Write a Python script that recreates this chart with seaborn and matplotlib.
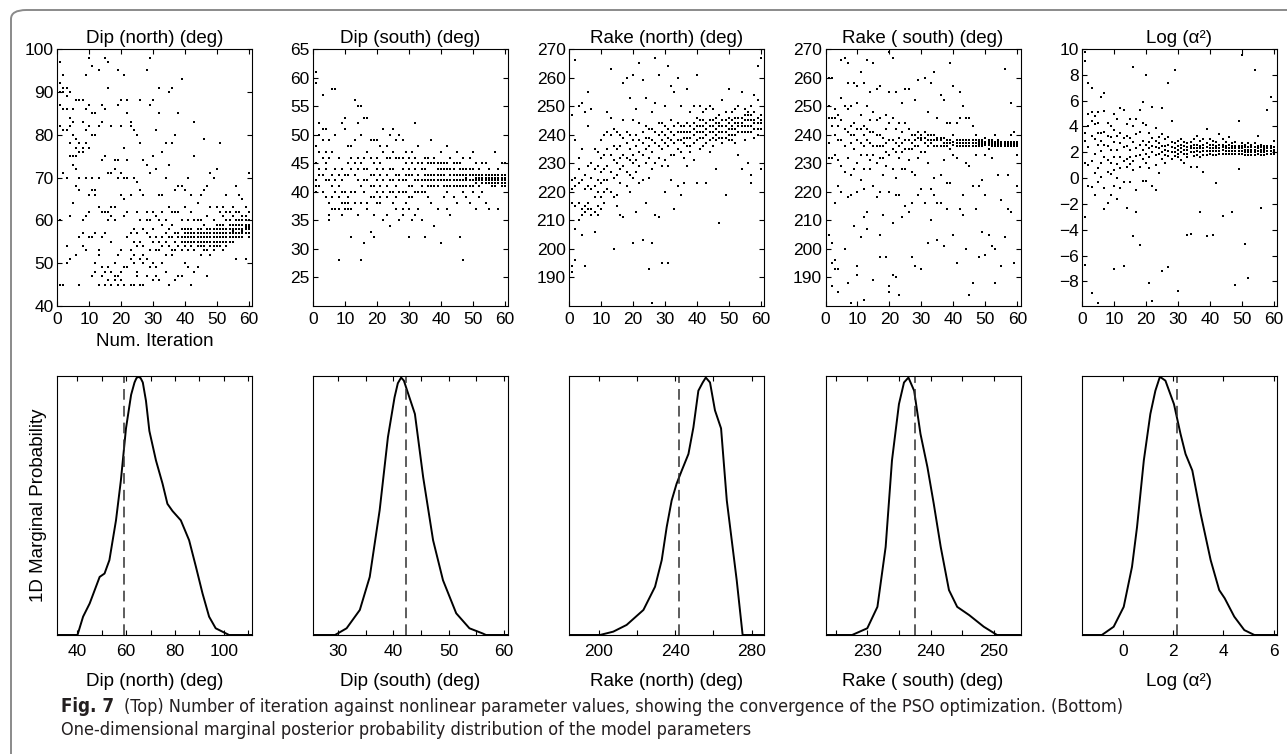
import numpy as np
import pandas as pd
import matplotlib
matplotlib.use("Agg")
import matplotlib.pyplot as plt
import seaborn as sns
from matplotlib.patches import FancyBboxPatch
from matplotlib.ticker import MultipleLocator
from matplotlib import font_manager as fm

# ---------------- data: PSO particle values per iteration (top row) ----------------
dip_north = [
    [91, 93, 88, 76, 72, 58, 62, 96], [92, 90, 87, 97, 45, 60, 82], [94, 91, 86, 45, 71, 81, 90],
    [91, 89, 86, 50, 54, 81, 70], [90, 84, 78, 82, 61, 51, 75], [75, 73, 80, 83, 64, 73, 86],
    [77, 75, 72, 88, 79, 52, 68], [76, 78, 88, 70, 67, 45, 56], [77, 76, 83, 88, 57, 60, 54],
    [78, 81, 94, 70, 61, 53, 86], [77, 82, 87, 66, 62, 56, 98], [80, 70, 96, 56, 67, 47, 85],
    [80, 67, 85, 66, 57, 50, 48], [82, 70, 95, 53, 52, 45, 63], [87, 83, 74, 62, 56, 49, 47],
    [86, 75, 62, 57, 48, 45, 98], [97, 71, 62, 60, 49, 46, 91], [82, 71, 63, 61, 48, 55, 45],
    [74, 72, 63, 60, 47, 50, 46], [95, 87, 74, 70, 47, 45, 52], [88, 82, 71, 66, 53, 46, 48],
    [94, 77, 70, 65, 61, 49, 45], [85, 88, 74, 70, 62, 56, 49], [82, 83, 66, 57, 53, 45, 51],
    [81, 70, 58, 55, 50, 45, 52], [80, 69, 62, 57, 54, 48, 47], [88, 78, 67, 60, 55, 51, 45],
    [74, 66, 58, 54, 52, 50, 45], [95, 73, 62, 60, 57, 51, 47], [98, 87, 71, 60, 56, 53, 49],
    [88, 75, 62, 58, 55, 50, 46], [81, 72, 61, 56, 53, 49, 47], [91, 85, 66, 60, 55, 53, 46],
    [76, 66, 62, 59, 56, 54, 50], [78, 70, 60, 57, 55, 52, 48], [90, 73, 63, 58, 56, 54, 45],
    [91, 78, 62, 59, 56, 53, 52], [80, 67, 62, 57, 55, 53, 46], [85, 68, 62, 57, 56, 54, 47],
    [93, 68, 60, 58, 56, 55, 53, 47], [67, 63, 58, 57, 56, 55, 54, 50], [70, 60, 58, 57, 56, 55, 53, 49],
    [66, 62, 58, 57, 56, 55, 54, 45], [75, 83, 60, 57, 56, 55, 53, 48], [64, 60, 58, 57, 56, 55, 54, 49],
    [66, 60, 58, 57, 56, 55, 54, 52], [79, 67, 59, 57, 56, 55, 54, 53], [68, 61, 58, 57, 56, 55, 53, 47],
    [71, 63, 58, 57, 56, 55, 54, 52], [70, 60, 58, 57, 56, 55, 54, 53], [72, 63, 59, 58, 57, 56, 55, 54],
    [78, 62, 59, 58, 57, 56, 55, 54], [63, 61, 59, 58, 57, 56, 55, 53], [66, 62, 60, 58, 57, 56, 55, 54],
    [62, 60, 59, 58, 57, 56, 55], [63, 61, 59, 58, 57.5, 57, 56, 55], [68, 62, 60, 59, 58, 57, 56, 51],
    [66, 62, 60, 59, 58, 57, 56], [65, 61, 60, 59, 58, 57.5, 57, 56], [63, 61, 60, 59, 58.5, 58, 57, 51],
    [71, 62, 60, 59, 58.5, 58, 57, 56],
]
dip_south = [
    [50, 44, 42, 41, 40, 38, 27, 47], [61, 59, 48, 45, 42, 41, 40], [52, 50, 47, 44, 43, 41],
    [57, 51, 49, 46, 43, 40], [51, 47, 45, 42, 39, 44], [49, 46, 42, 38, 36, 35],
    [58, 47, 43, 41, 39, 37], [58, 50, 44, 42, 40, 37], [46, 43, 41, 39, 37, 28],
    [52, 44, 42, 40, 38, 36], [53, 51, 43, 40, 38, 37], [48, 45, 43, 39, 38, 37],
    [48, 46, 44, 40, 37, 32], [56, 49, 45, 43, 40, 38], [55, 52, 46, 44, 42, 36],
    [55, 50, 45, 41, 38, 28], [53, 46, 44, 42, 40, 31], [53, 47, 44, 42, 38, 37],
    [49, 46, 43, 41, 39, 33], [49, 45, 43, 41, 39, 36, 32], [49, 46, 44, 42, 40, 38],
    [48, 45, 43, 41, 39, 38], [51, 47, 44, 42, 40, 35], [48, 46, 43, 41, 39, 36],
    [50, 46, 44, 42, 40, 34], [51, 47, 44, 42, 40, 38], [49, 46, 43, 41, 39, 37],
    [50, 46, 43, 42, 40, 35], [49, 46, 44, 42, 40, 37, 36], [47, 45, 43, 42, 40, 38],
    [46, 44, 43, 41, 39, 37, 32], [47, 45, 43, 41, 39, 35], [52, 46, 44, 42, 40, 36],
    [48, 45, 43, 42, 40, 37], [45, 44, 42, 41, 40, 35], [46, 44, 43, 42, 40, 32],
    [46, 45, 43, 42, 41, 39], [49, 45, 43, 42, 41, 38], [46, 45, 43, 42, 41, 34],
    [45, 44, 43, 42, 41, 37], [47, 45, 44, 43, 42, 31], [45, 44, 43, 42, 41, 39],
    [48, 45, 44, 42, 41, 40, 37], [46, 44, 43, 42, 41, 36], [45, 44, 43, 42, 41, 39],
    [47, 45, 43, 42, 41, 38], [45, 44, 43, 42, 41, 32], [46, 44, 43, 42, 41, 40, 28],
    [44, 43, 42.5, 42, 41, 39], [46, 44, 43, 42, 41, 38], [47, 44, 43, 42, 41, 40],
    [45, 43, 42.5, 42, 41.5, 37], [44, 43, 42.5, 42, 41, 39], [45, 43, 42.5, 42, 41.5, 40],
    [45, 43, 42.5, 42, 41.5, 38], [44, 43, 42.5, 42, 41.5, 37], [43, 42.5, 42, 41.5, 41],
    [47, 43, 42.5, 42, 41.5, 41], [44, 43, 42.5, 42, 41.5, 37], [45, 43, 42.5, 42, 41.5, 41],
    [45, 43, 42.5, 42, 41.5, 41],
]
rake_north = [
    [225, 222, 215, 211, 195, 205, 238], [224, 221, 216, 192, 194, 247], [238, 225, 222, 215, 207, 196, 266],
    [232, 228, 223, 216, 210, 250], [235, 224, 214, 212, 205, 251], [248, 226, 221, 215, 213, 194],
    [243, 229, 222, 216, 214, 255], [249, 230, 225, 221, 214, 212], [235, 228, 222, 218, 213, 206],
    [234, 229, 224, 220, 215, 212], [238, 232, 227, 223, 218, 214], [240, 233, 228, 224, 220, 216],
    [248, 241, 235, 229, 224, 221], [263, 246, 240, 233, 227, 220], [242, 236, 231, 225, 218, 200],
    [241, 235, 230, 226, 219, 215], [240, 236, 232, 228, 223, 212], [258, 245, 239, 233, 229, 211],
    [260, 241, 237, 232, 227, 222], [253, 240, 235, 231, 226, 220], [261, 245, 238, 233, 230, 225, 202],
    [249, 240, 236, 231, 227, 213], [265, 244, 238, 234, 229, 223], [259, 241, 237, 233, 224, 203],
    [253, 243, 239, 235, 230, 216], [242, 239, 236, 232, 225, 193], [248, 242, 238, 234, 228, 202, 181],
    [267, 251, 241, 237, 230, 212], [261, 244, 240, 236, 232, 211], [244, 241, 238, 235, 229, 195],
    [250, 243, 240, 237, 231, 220], [264, 242, 239, 236, 229, 195], [257, 245, 241, 238, 233, 224],
    [255, 243, 240, 237, 233, 214], [260, 244, 241, 238, 235, 222], [250, 243, 241, 238, 234, 219],
    [243, 241, 239, 237, 232, 223], [256, 244, 241, 239, 236, 229], [248, 243, 241, 239, 236, 234],
    [250, 244, 242, 240, 237, 231], [261, 246, 243, 241, 238, 223], [250, 245, 243, 241, 239, 235],
    [248, 245, 243, 241, 239, 236], [249, 244, 242, 240, 237, 223], [250, 245, 243, 241, 238, 234],
    [249, 245, 243, 241, 239, 236], [246, 244, 242, 240, 238, 228], [247, 244, 243, 241, 239, 209],
    [252, 245, 243, 241, 239, 237], [248, 245, 243, 241, 239, 219], [256, 246, 244, 242, 240, 238],
    [248, 245, 243, 242, 240, 238], [249, 246, 244, 242, 240, 237], [250, 246, 244, 243, 241, 233],
    [255, 246, 244, 243, 241, 228], [249, 247, 245, 243, 241, 238], [248, 247, 245, 243, 241, 230],
    [250, 247, 245, 243, 241, 223, 226], [254, 248, 245, 244, 242, 239], [264, 252, 246, 244, 242, 240],
    [267, 247, 245, 244, 242, 228],
]
rake_south = [
    [266, 253, 250, 249, 241, 233, 211, 207], [260, 250, 246, 237, 232, 205], [260, 246, 243, 232, 202, 187, 195],
    [249, 246, 240, 233, 216, 196, 193], [247, 243, 238, 231, 222, 193, 185], [266, 253, 245, 238, 229, 220],
    [267, 250, 242, 236, 227, 200], [265, 258, 249, 241, 232, 218, 188], [250, 243, 240, 237, 226, 219, 181],
    [258, 244, 240, 235, 228, 208], [257, 251, 242, 238, 230, 220, 194, 191], [262, 247, 242, 237, 233, 224, 204],
    [258, 243, 240, 236, 228, 221, 211, 182], [266, 250, 242, 238, 233, 213, 207], [255, 245, 241, 237, 231, 228],
    [265, 248, 241, 236, 233, 222, 189], [256, 245, 240, 236, 230, 218], [257, 246, 240, 236, 232, 220, 205, 197],
    [239, 236, 232, 226, 212], [247, 242, 237, 234, 229, 197], [269, 255, 244, 238, 233, 220, 185, 187],
    [267, 246, 238, 235, 228, 209, 191], [255, 242, 237, 234, 225, 219, 190], [244, 239, 236, 232, 219, 184],
    [251, 241, 237, 234, 228, 211], [256, 244, 238, 235, 228, 215], [256, 242, 238, 235, 231, 213],
    [240, 237, 235, 227, 216, 197], [252, 240, 238, 236, 226, 194], [259, 241, 239, 236, 232, 219],
    [240, 239, 238, 234, 221, 193], [260, 241, 239, 237, 234, 216], [248, 240, 238, 236, 230, 202],
    [258, 240, 238, 237, 221, 210], [262, 240, 238, 236, 225, 219], [246, 239, 238, 236, 216, 203],
    [254, 239, 238, 236, 226, 216], [252, 239, 237, 236, 231, 201], [244, 238, 237, 236, 223, 214],
    [265, 244, 238, 237, 235, 223], [257, 240, 237.5, 236.5, 233, 205], [244, 238, 237, 236, 232, 195],
    [255, 246, 238, 237, 236, 214], [250, 238, 237, 236, 219, 212], [246, 238, 237, 236, 230, 200],
    [246, 238, 237, 236, 229, 184], [243, 238, 237, 236, 222, 188], [240, 238, 237, 236, 233, 214],
    [238, 237.5, 237, 236.5, 236, 222, 197], [238, 237.5, 237, 236.5, 236, 224, 206],
    [239, 237.5, 237, 236.5, 233, 219, 198], [238, 237.5, 237, 236.5, 235, 205],
    [238, 237.5, 237, 236.5, 236, 232, 201], [240, 237.5, 237, 236.5, 236, 188, 200],
    [238, 237.5, 237, 236.5, 236, 226], [237.5, 237, 236.5, 236, 217, 194], [263, 237.5, 237, 236.5, 236, 204],
    [237.5, 237, 236.5, 236, 226, 214], [240, 237.5, 237, 236.5, 236, 251, 213],
    [241, 237.5, 237, 236.5, 236, 195], [237.5, 237, 236.5, 236, 233, 222],
]
log_alpha2 = [
    [7.4, 6.7, 3.0, 2.8, 2.2, 1.0, -0.5, 3.4], [9.8, 9.1, 3.5, 2.9, 1.2, -3.0, -6.7], [7.4, 5.0, 4.0, 2.4, 1.0, -0.6],
    [7.0, 5.1, 4.4, 3.3, 1.3, -0.7, -8.9], [4.8, 4.2, 3.0, 1.9, 0.4, -1.3], [5.1, 4.3, 3.5, 2.6, 0.8, -0.3, -9.7],
    [6.3, 3.5, 2.9, 2.1, 1.2, 0.1], [6.6, 5.2, 3.6, 2.6, 1.6, -0.8, -2.4], [4.3, 3.3, 2.5, 1.4, 0.5, -1.9],
    [4.0, 3.2, 2.2, 1.2, 0.3, -1.3], [5.0, 3.7, 2.8, 1.6, 0.6, -0.6, -7.0], [4.6, 3.3, 2.2, 1.1, 0.0, -1.6],
    [5.4, 3.5, 2.7, 1.6, 0.8, -0.8], [5.3, 3.1, 2.4, 1.3, -0.3, -6.8], [4.2, 3.3, 2.5, 1.5, 0.9, -2.3],
    [4.6, 3.1, 2.2, 1.6, 1.1, -0.3], [8.6, 4.0, 2.8, 1.3, 0.6, -4.5], [4.6, 3.4, 2.3, 1.7, -0.9, -2.6],
    [5.3, 3.6, 2.6, 1.8, 0.9, -5.2], [5.9, 4.3, 2.9, 2.2, 1.5, -0.2], [8.0, 4.1, 2.6, 1.9, 1.2, -0.2],
    [3.5, 2.8, 2.3, 1.6, 0.8, -8.1], [5.5, 3.1, 2.5, 2.0, -0.6, -9.5], [3.9, 2.9, 2.4, 1.8, 1.0, -0.9],
    [3.2, 2.7, 2.3, 1.9, 0.4], [5.4, 3.4, 2.5, 2.0, 1.5, -7.2], [3.0, 2.5, 2.2, 1.8, 1.2],
    [7.4, 3.2, 2.6, 2.1, 1.7, -6.9], [4.4, 2.8, 2.4, 2.0, 1.5], [8.4, 2.7, 2.3, 2.0, 1.7],
    [2.9, 2.5, 2.2, 1.9, 1.6, -8.7], [3.0, 2.6, 2.3, 2.0, 1.4], [2.8, 2.5, 2.2, 1.9, 1.2],
    [2.7, 2.4, 2.2, 1.9, 1.6, -4.4], [2.8, 2.5, 2.3, 2.0, 0.9, -4.3], [3.0, 2.6, 2.3, 2.0, 1.7],
    [3.3, 2.6, 2.3, 2.1, 1.8, 0.9], [2.9, 2.5, 2.3, 2.0, 1.6, -2.6], [3.0, 2.6, 2.3, 2.1, 1.8, 0.5],
    [3.8, 2.7, 2.4, 2.1, 1.8, -4.5], [3.0, 2.6, 2.3, 2.1, 1.9], [2.9, 2.6, 2.3, 2.1, 1.8, -4.4],
    [2.8, 2.5, 2.3, 2.1, 1.8, -0.4], [3.4, 2.6, 2.3, 2.1, 1.9], [3.0, 2.6, 2.4, 2.2, 1.9, -2.9],
    [2.8, 2.5, 2.3, 2.1, 1.9], [3.2, 2.6, 2.3, 2.1, 1.9], [2.7, 2.5, 2.3, 2.1, 1.9, -2.6],
    [2.8, 2.5, 2.3, 2.1, 1.9, -8.3], [4.4, 2.5, 2.3, 2.1, 1.9, 0.7], [2.7, 2.5, 2.3, 2.1, 1.9, 9.5],
    [2.6, 2.4, 2.2, 2.0, 1.8, -5.1], [2.7, 2.4, 2.2, 2.0, 1.8, -7.7], [2.6, 2.4, 2.2, 2.0, 1.8],
    [2.7, 2.4, 2.2, 2.0, 1.8, 8.4], [3.3, 2.5, 2.3, 2.1, 1.9], [2.6, 2.4, 2.2, 2.0, 1.8, -2.3],
    [2.5, 2.3, 2.2, 2.0, 1.8], [5.3, 2.5, 2.3, 2.1, 1.9], [6.3, 2.5, 2.3, 2.1, 1.9],
    [2.9, 2.4, 2.2, 2.1, 1.9],
]

# ---------------- data: 1D marginal probability curves (bottom row) ----------------
pdf_dip_north_x = [31.6, 40.0, 42.3, 45.0, 49.1, 51.1, 53.1, 55.8, 57.8, 59.9, 62.0, 63.4, 64.2, 65.0, 65.9,
                   66.8, 68.1, 69.5, 72.2, 74.9, 76.9, 79.0, 82.4, 85.8, 88.6, 91.3, 94.0, 96.7, 102.2, 111.6]
pdf_dip_north_y = [0, 0, 0.071, 0.122, 0.225, 0.238, 0.29, 0.444, 0.598, 0.80, 0.93, 0.978, 0.995, 1.0, 0.995,
                   0.978, 0.907, 0.79, 0.676, 0.586, 0.508, 0.48, 0.444, 0.367, 0.264, 0.161, 0.071, 0.026, 0, 0]
pdf_dip_south_x = [25.4, 29.4, 31.5, 33.9, 35.7, 37.5, 39.0, 40.2, 40.8, 41.4, 41.9, 42.3, 43.9, 45.4, 47.2,
                   49.0, 51.4, 53.8, 56.2, 56.8, 60.8]
pdf_dip_south_y = [0, 0, 0.026, 0.097, 0.225, 0.483, 0.766, 0.92, 0.975, 0.997, 0.985, 0.959, 0.856, 0.611,
                   0.367, 0.212, 0.084, 0.026, 0.006, 0, 0]
pdf_rake_north_x = [184.3, 200.5, 207.5, 214.5, 223.3, 229.4, 232.9, 235.5, 238.1, 240.7, 243.4, 246.9, 249.5,
                    252.1, 254.4, 256.0, 258.2, 260.8, 264.0, 267.0, 272.2, 275.3, 286.5]
pdf_rake_north_y = [0, 0, 0.013, 0.039, 0.097, 0.187, 0.29, 0.418, 0.521, 0.586, 0.637, 0.701, 0.804, 0.946,
                    0.978, 0.997, 0.978, 0.87, 0.80, 0.521, 0.212, 0, 0]
pdf_rake_south_x = [223.4, 227.6, 230.0, 231.6, 232.9, 233.9, 235.0, 235.8, 236.5, 237.4, 238.4, 239.5, 240.5,
                    241.6, 242.9, 244.2, 246.1, 248.4, 250.5, 254.2]
pdf_rake_south_y = [0, 0, 0.026, 0.109, 0.341, 0.676, 0.894, 0.978, 0.997, 0.946, 0.779, 0.65, 0.508, 0.341,
                    0.174, 0.109, 0.077, 0.032, 0, 0]
pdf_log_x = [-1.63, -0.84, -0.37, 0.03, 0.36, 0.56, 0.83, 1.09, 1.29, 1.47, 1.69, 2.03, 2.29, 2.49, 2.76, 3.09,
             3.49, 3.83, 4.05, 4.43, 4.83, 5.23, 6.13]
pdf_log_y = [0, 0, 0.032, 0.109, 0.264, 0.418, 0.676, 0.856, 0.946, 1.0, 0.985, 0.894, 0.779, 0.701, 0.637,
             0.47, 0.29, 0.174, 0.142, 0.071, 0.019, 0, 0]

best_values = [58.9, 42.2, 242.0, 237.5, 2.16]
param_titles = ["Dip (north) (deg)", "Dip (south) (deg)", "Rake (north) (deg)", "Rake ( south) (deg)", "Log (α²)"]
caption_bold = "Fig. 7"
caption_line1 = "(Top) Number of iteration against nonlinear parameter values, showing the convergence of the PSO optimization. (Bottom)"
caption_line2 = "One-dimensional marginal posterior probability distribution of the model parameters"

# ---------------- styling ----------------
sns.set_theme(style="ticks")
plt.rcParams.update({
    "axes.linewidth": 0.8, "axes.edgecolor": "black",
    "xtick.direction": "in", "ytick.direction": "in",
    "xtick.major.size": 3.5, "ytick.major.size": 3.5,
    "xtick.minor.size": 3.5, "ytick.minor.size": 3.5,
    "xtick.major.width": 0.8, "ytick.major.width": 0.8,
    "xtick.minor.width": 0.8, "ytick.minor.width": 0.8,
    "xtick.labelsize": 12.5, "ytick.labelsize": 12.5,
    "xtick.color": "black", "ytick.color": "black",
    "text.color": "black", "axes.labelcolor": "black",
})
plt.rcParams["font.family"] = ["Liberation Sans", "DejaVu Sans"]
LABEL_FS = 13.5

W, H = 1287, 754
fig = plt.figure(figsize=(W / 100, H / 100), dpi=100)


def fx(px):
    return px / W


def fy(py):
    return 1 - py / H


# frame around the figure (rounded box)
frame = FancyBboxPatch((fx(11), fy(775)), fx(1320) - fx(11), fy(10) - fy(775),
                       boxstyle="round,pad=0,rounding_size=0.012", transform=fig.transFigure,
                       facecolor="none", edgecolor="#8a8a8a", linewidth=1.4, zorder=0)
fig.patches.append(frame)

lefts = [57, 313, 569, 825.5, 1082]
aw = 195
top_series = [dip_north, dip_south, rake_north, rake_south, log_alpha2]
top_ylims = [(40, 100), (20, 65), (180, 270), (180, 270), (-9.9, 10)]
top_yticks = [list(range(40, 101, 10)), list(range(25, 66, 5)), list(range(190, 271, 10)),
              list(range(190, 271, 10)), list(range(-8, 11, 2))]

for i in range(5):
    ax = fig.add_axes([fx(lefts[i]), fy(306), aw / W, (306 - 49) / H])
    rows = [(it, v) for it, vals in enumerate(top_series[i]) for v in vals]
    df = pd.DataFrame(rows, columns=["iteration", "value"])
    sns.scatterplot(data=df, x="iteration", y="value", ax=ax, color="black", marker="s",
                    s=2.0, linewidth=0, legend=False)
    ax.set_xlim(0, 61)
    ax.set_ylim(*top_ylims[i])
    ax.xaxis.set_major_locator(MultipleLocator(10))
    ax.set_yticks(top_yticks[i])
    ax.tick_params(top=True, right=True)
    ax.tick_params(axis="x", pad=4.5)
    ax.tick_params(axis="y", pad=2.5)
    ax.set_title(param_titles[i], fontsize=LABEL_FS, pad=4)
    ax.set_ylabel("")
    ax.set_xlabel("Num. Iteration" if i == 0 else "", fontsize=LABEL_FS, labelpad=4.5)
    for sp in ax.spines.values():
        sp.set_visible(True)

pdf_x = [pdf_dip_north_x, pdf_dip_south_x, pdf_rake_north_x, pdf_rake_south_x, pdf_log_x]
pdf_y = [pdf_dip_north_y, pdf_dip_south_y, pdf_rake_north_y, pdf_rake_south_y, pdf_log_y]
bot_xlims = [(31.6, 111.6), (25.4, 60.8), (184.3, 286.5), (223.4, 254.2), (-1.63, 6.13)]
bot_major = [20, 10, 40, 10, 2]
bot_minor = [10, 5, 20, 5, 2]

for i in range(5):
    ax = fig.add_axes([fx(lefts[i]), fy(635), aw / W, (635 - 376) / H])
    sns.lineplot(x=pdf_x[i], y=pdf_y[i], ax=ax, color="black", linewidth=1.4,
                 sort=False, estimator=None)
    ax.axvline(best_values[i], color="#303030", linestyle=(0, (7, 4)), linewidth=1.1)
    ax.set_xlim(*bot_xlims[i])
    ax.set_ylim(0, 1.003)
    ax.xaxis.set_major_locator(MultipleLocator(bot_major[i]))
    ax.xaxis.set_minor_locator(MultipleLocator(bot_minor[i]))
    ax.tick_params(axis="x", which="both", top=True, bottom=True, pad=6.5)
    ax.tick_params(axis="y", which="both", left=False, right=False, labelleft=False)
    ax.set_xlabel(param_titles[i], fontsize=LABEL_FS, labelpad=10)
    ax.set_ylabel("1D Marginal Probability" if i == 0 else "", fontsize=LABEL_FS, labelpad=7)
    for sp in ax.spines.values():
        sp.set_visible(True)

# ---------------- caption ----------------
cond = [f for f in fm.fontManager.ttflist
        if ("Condensed" in f.fname or "Narrow" in f.fname) and "Bold" not in f.fname
        and "Oblique" not in f.fname and "Italic" not in f.fname]
cond_bold = [f for f in fm.fontManager.ttflist
             if ("Condensed" in f.fname or "Narrow" in f.fname) and "Bold" in f.fname
             and "Oblique" not in f.fname and "Italic" not in f.fname]
if cond:
    cap_prop = fm.FontProperties(fname=cond[0].fname)
    cap_bold = fm.FontProperties(fname=cond_bold[0].fname) if cond_bold else fm.FontProperties(
        fname=cond[0].fname, weight="bold")
else:
    cap_prop = fm.FontProperties(family="Liberation Sans")
    cap_bold = fm.FontProperties(family="Liberation Sans", weight="bold")

cap_color = "#231f20"
cap_x0, cap_x1, cap_end = 61, 124, 1118
y1, y2 = 707, 730

fig.canvas.draw()
renderer = fig.canvas.get_renderer()
t1 = fig.text(fx(cap_x1), fy(y1), caption_line1, fontproperties=cap_prop, fontsize=12,
              va="center", ha="left", color=cap_color)
w = t1.get_window_extent(renderer).width
fs = 12 * (cap_end - cap_x1) / w
t1.set_fontsize(fs)
fig.text(fx(cap_x0), fy(y1), caption_bold, fontproperties=cap_bold, fontsize=fs + 0.5,
         va="center", ha="left", color=cap_color)
fig.text(fx(cap_x0), fy(y2), caption_line2, fontproperties=cap_prop, fontsize=fs,
         va="center", ha="left", color=cap_color)

fig.savefig("out.png", dpi=100)
